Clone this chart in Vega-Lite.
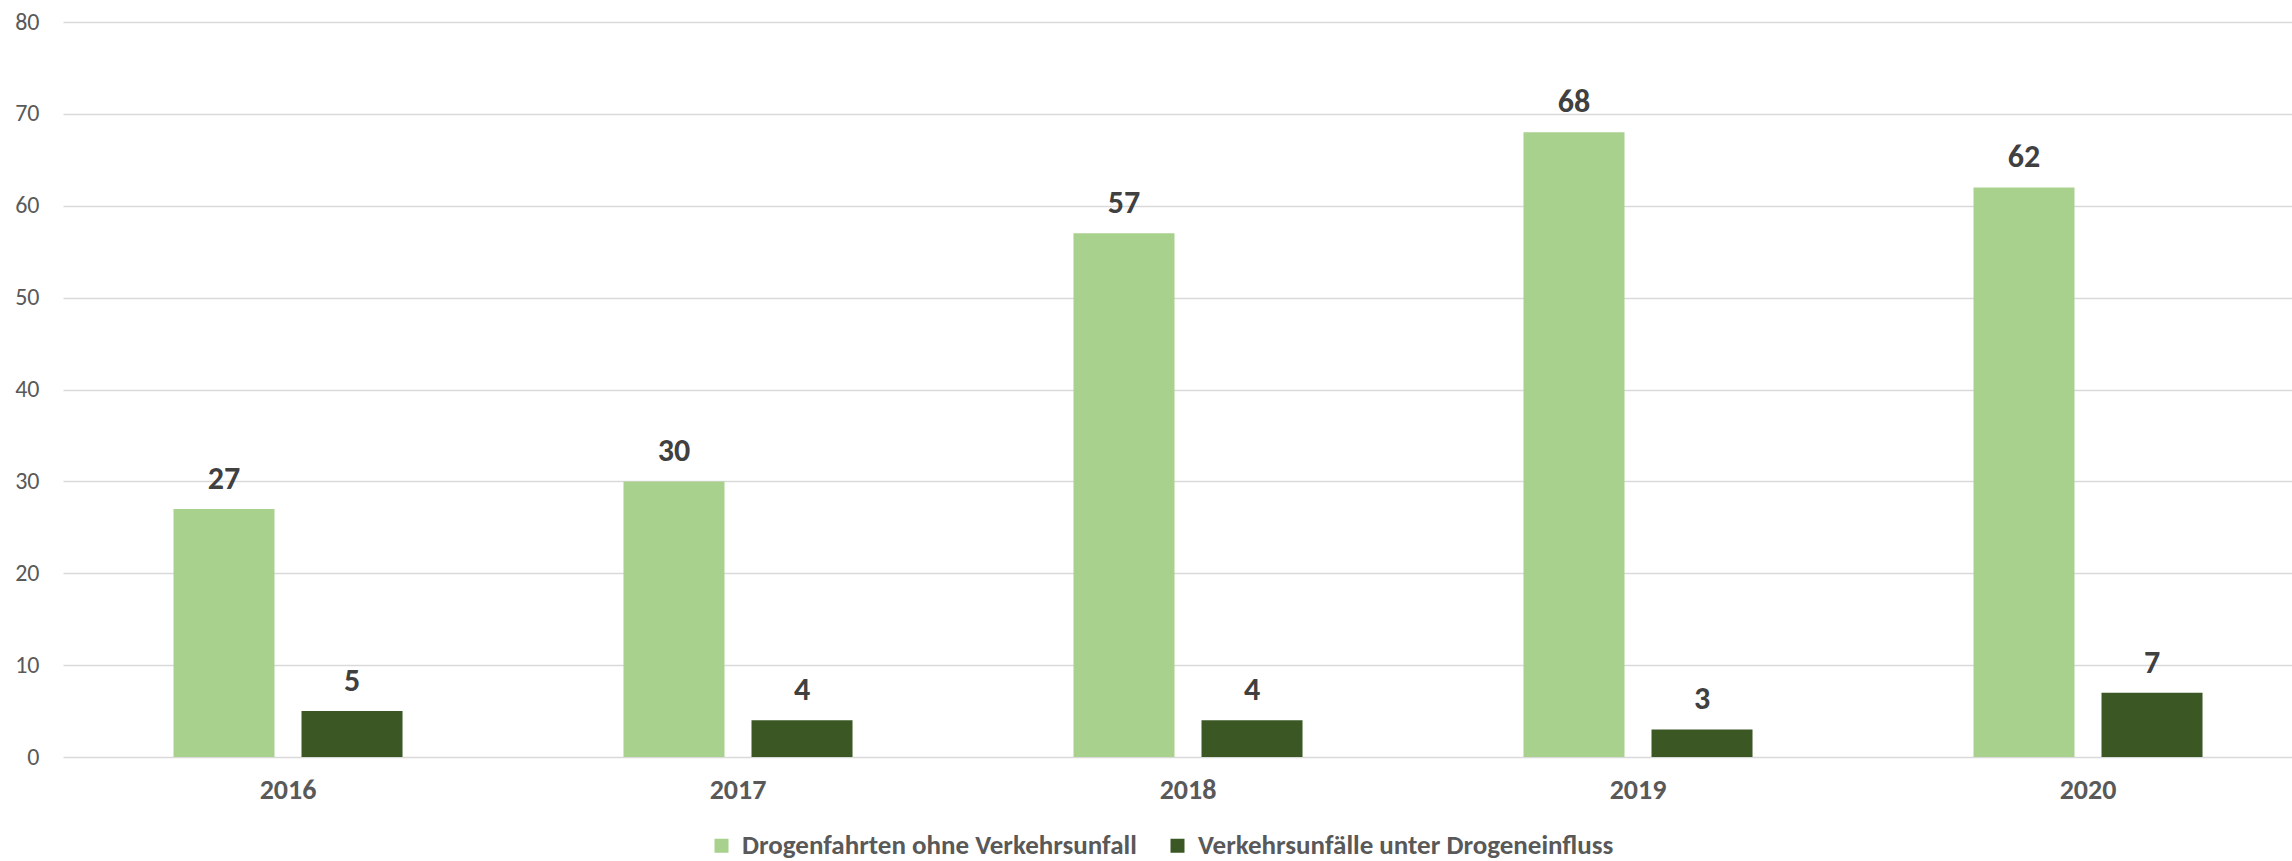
{
  "$schema": "https://vega.github.io/schema/vega-lite/v6.json",
  "width": 2229,
  "height": 735,
  "autosize": {"type": "none"},
  "padding": {"left": 63, "top": 22, "right": 0, "bottom": 104},
  "background": "white",
  "config": {
    "view": {"stroke": null},
    "font": "Carlito, Lato, sans-serif"
  },
  "data": {
    "values": [
      {"year": "2016", "series": "Drogenfahrten ohne Verkehrsunfall", "value": 27},
      {"year": "2016", "series": "Verkehrsunfälle unter Drogeneinfluss", "value": 5},
      {"year": "2017", "series": "Drogenfahrten ohne Verkehrsunfall", "value": 30},
      {"year": "2017", "series": "Verkehrsunfälle unter Drogeneinfluss", "value": 4},
      {"year": "2018", "series": "Drogenfahrten ohne Verkehrsunfall", "value": 57},
      {"year": "2018", "series": "Verkehrsunfälle unter Drogeneinfluss", "value": 4},
      {"year": "2019", "series": "Drogenfahrten ohne Verkehrsunfall", "value": 68},
      {"year": "2019", "series": "Verkehrsunfälle unter Drogeneinfluss", "value": 3},
      {"year": "2020", "series": "Drogenfahrten ohne Verkehrsunfall", "value": 62},
      {"year": "2020", "series": "Verkehrsunfälle unter Drogeneinfluss", "value": 7}
    ]
  },
  "encoding": {
    "x": {
      "field": "year", "type": "nominal",
      "scale": {"range": [0, 2250], "paddingInner": 0, "paddingOuter": 0},
      "axis": {
        "title": null, "domain": false, "ticks": false, "labelAngle": 0,
        "labelFontSize": 28, "labelFontWeight": "bold", "labelColor": "#595959",
        "labelPadding": 19
      }
    },
    "xOffset": {
      "field": "series", "type": "nominal",
      "scale": {"paddingInner": 0.211, "paddingOuter": 0.863}
    },
    "y": {
      "field": "value", "type": "quantitative",
      "scale": {"domain": [0, 80], "nice": false},
      "axis": {
        "title": null, "domain": false, "ticks": false,
        "values": [0, 10, 20, 30, 40, 50, 60, 70, 80],
        "gridColor": "#D9D9D9", "gridWidth": 1.5,
        "labelFontSize": 24, "labelColor": "#595959", "labelPadding": 24
      }
    }
  },
  "layer": [
    {
      "mark": {"type": "bar"},
      "encoding": {
        "fill": {
          "field": "series", "type": "nominal",
          "scale": {
            "domain": ["Drogenfahrten ohne Verkehrsunfall", "Verkehrsunfälle unter Drogeneinfluss"],
            "range": ["#A9D18E", "#3A5724"]
          },
          "legend": {
            "title": null, "orient": "none", "direction": "horizontal",
            "legendX": 645, "legendY": 810,
            "symbolType": "square", "symbolSize": 196, "symbolStrokeWidth": 0,
            "labelFontSize": 27, "labelFontWeight": "bold", "labelColor": "#595959",
            "labelOffset": 7, "columnPadding": 27, "labelLimit": 700
          }
        }
      }
    },
    {
      "mark": {"type": "text", "baseline": "alphabetic", "dy": -20, "fontSize": 32, "fontWeight": "bold", "color": "#404040"},
      "encoding": {
        "text": {"field": "value", "type": "quantitative"}
      }
    }
  ]
}
